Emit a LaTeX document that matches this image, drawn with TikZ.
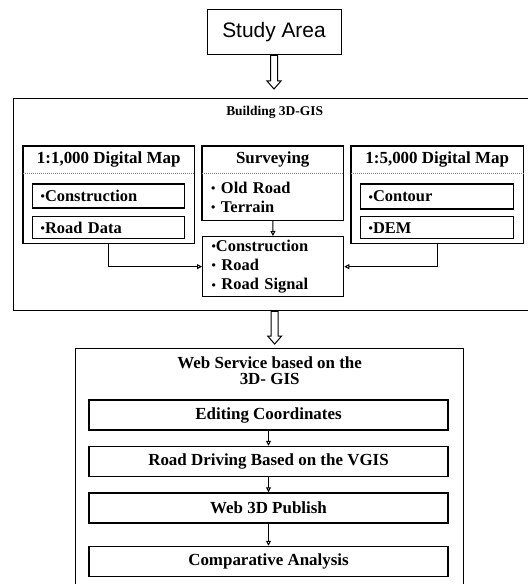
\documentclass[tikz,border=0pt]{standalone}
\usepackage{fontspec}
\setmainfont{Liberation Serif}
\setsansfont{Liberation Sans}
\usepackage{tikz}
\usetikzlibrary{arrows.meta, positioning, calc}
\newcommand{\bul}{\raisebox{0.1ex}{\scalebox{0.75}{\textbullet}}}
\tikzset{
  startbox/.style={draw, line width=1bp, font=\sffamily\fontsize{21}{24}\selectfont, minimum width=134bp, minimum height=45bp},
  frame/.style={draw, line width=1.3bp},
  sep/.style={densely dotted, gray, line width=1bp},
  headbox/.style={font=\bfseries\fontsize{17}{19}\selectfont, minimum height=27bp, inner sep=0pt},
  bodybox/.style={inner sep=0pt},
  item/.style={draw, line width=1.5bp, align=left, font=\bfseries\fontsize{16.5}{19}\selectfont, inner xsep=8bp, inner ysep=0pt},
  listbox/.style={align=left, font=\bfseries\fontsize{16.5}{19.5}\selectfont, inner xsep=9bp, inner ysep=0pt, text width=123bp},
  stepbox/.style={draw, line width=1.5bp, font=\bfseries\fontsize{17}{19}\selectfont, minimum width=359bp, minimum height=30bp, inner sep=0pt},
  title/.style={font=\bfseries\fontsize{13.5}{15}\selectfont, inner sep=0pt, align=center},
  link/.style={-{Triangle[open, length=5bp, width=5bp]}, line width=1bp},
  hollow/.style={draw, line width=1bp, fill=white, to path={let \p1=(\tikztostart), \p2=(\tikztotarget) in
    (\x1-3.5bp,\y1) -- (\x1-3.5bp,\y2+#1+8bp) -- (\x1-7bp,\y2+#1+8bp) -- (\x1,\y2+#1)
    -- (\x1+7bp,\y2+#1+8bp) -- (\x1+3.5bp,\y2+#1+8bp) -- (\x1+3.5bp,\y1) -- cycle}},
  hollow/.default=6bp
}

\begin{document}
\begin{tikzpicture}[x=1bp, y=1bp]
    \useasboundingbox (0,0) rectangle (528,-584);

    \node[startbox] (study) at (274,-32.5) {Study Area};

    % building 3D-GIS
    \node[frame, minimum width=522bp, minimum height=212bp, anchor=north west] (gis) at (13,-98) {};
    \node[title, below=8bp of gis.north] (gistitle) {Building 3D-GIS};

    \node[headbox, minimum width=171bp, anchor=north west] (map1head) at (23,-146) {1:1,000 Digital Map};
    \node[bodybox, minimum width=171bp, minimum height=70bp, below=0pt of map1head] (map1body) {};
    \draw[frame] (map1head.north west) rectangle (map1body.south east);
    \draw[sep] (map1head.south west) -- (map1head.south east);
    \node[item, text width=136bp, minimum height=24bp, below=10bp of map1head] (constr1) {\bul Construction};
    \node[item, text width=136bp, minimum height=22bp, below=7bp of constr1] (road1) {\bul Road Data};

    \node[headbox, minimum width=141bp, anchor=north west] (survhead) at (202,-146) {Surveying};
    \node[listbox, minimum height=47bp, below=0pt of survhead] (surv) {\bul\ Old Road\\\bul\ Terrain};
    \draw[frame] (survhead.north west) rectangle (surv.south east);
    \draw[sep] (survhead.south west) -- (survhead.south east);

    \node[listbox, frame, minimum height=60bp, anchor=north west] (result) at (202,-236)
        {\bul Construction\\\bul\ Road\\\bul\ Road Signal};

    \node[headbox, minimum width=172bp, anchor=north west] (map5head) at (351,-146) {1:5,000 Digital Map};
    \node[bodybox, minimum width=172bp, minimum height=70bp, below=0pt of map5head] (map5body) {};
    \draw[frame] (map5head.north west) rectangle (map5body.south east);
    \draw[sep] (map5head.south west) -- (map5head.south east);
    \node[item, text width=137bp, minimum height=25bp, below=10bp of map5head] (contour) {\bul Contour};
    \node[item, text width=137bp, minimum height=22bp, below=6bp of contour] (dem) {\bul DEM};

    \draw[link] (surv) -- (result);
    \draw[link] (map1body.south) |- (result.west);
    \draw[link] (map5body.south) |- (result.east);

    % web service
    \node[frame, minimum width=388bp, minimum height=260bp, anchor=north west] (web) at (75,-348) {};
    \node[title, font=\bfseries\fontsize{17}{16}\selectfont, below=9bp of web.north] (webtitle)
        {Web Service based on the\\3D- GIS};

    \node[stepbox] (edit) at (268.5,-415) {Editing Coordinates};
    \node[stepbox, below=15bp of edit] (drive) {Road Driving Based on the VGIS};
    \node[stepbox, below=15bp of drive] (publish) {Web 3D Publish};
    \node[stepbox, below=22bp of publish] (compare) {Comparative Analysis};

    \draw[link] (edit) -- (drive);
    \draw[link] (drive) -- (publish);
    \draw[link] (publish) -- (compare);

    \draw[hollow=9bp] (study.south) to (gis.north);
    \draw[hollow=4bp] (gis.south) to (web.north);
\end{tikzpicture}
\end{document}
